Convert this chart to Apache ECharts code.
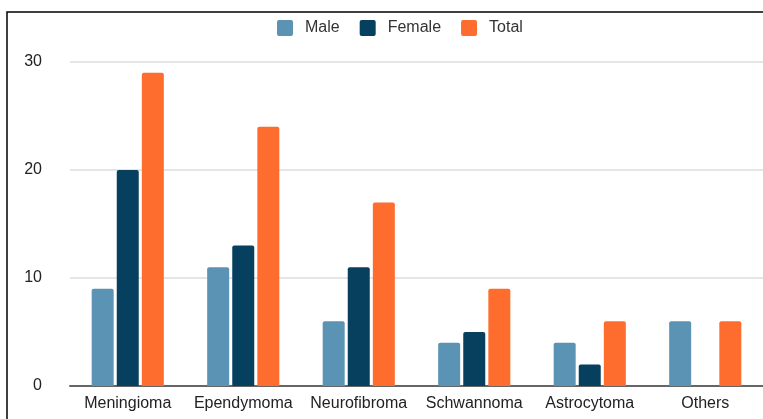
<!DOCTYPE html>
<html><head><meta charset="utf-8">
<script src="https://cdn.jsdelivr.net/npm/echarts@6/dist/echarts.min.js"></script>
<style>html,body{margin:0;padding:0;background:#fff}#c{width:763px;height:419px}</style>
</head><body><div id="c"></div>
<script>
const categories = ['Meningioma','Ependymoma','Neurofibroma','Schwannoma','Astrocytoma','Others'];
const male = [9, 11, 6, 4, 4, 6];
const female = [20, 13, 11, 5, 2, 0];
const total = [29, 24, 17, 9, 6, 6];
const seriesNames = ['Male','Female','Total'];
const yTicks = {min:0, max:30, interval:10};

const chart = echarts.init(document.getElementById('c'));
const font = 'Liberation Sans, Arial, sans-serif';
const colors = ['#5a93b3','#073f5e','#ff6d2e'];
const mk = (name, data, color) => ({
  name, type:'bar', data: data.map(v => v === 0 ? null : v), barWidth:22, barGap:'14%',
  itemStyle:{color, borderRadius:[2,2,0,0]}
});
chart.setOption({
  animation:false,
  color: colors,
  graphic:[{type:'rect', shape:{x:7,y:12,width:900,height:600}, style:{fill:'none', stroke:'#000', lineWidth:1.5}, z:100}],
  legend:{top:15, left:272, itemWidth:16, itemHeight:16, itemGap:20,
    icon:'path://M2,0 L14,0 Q16,0 16,2 L16,14 Q16,16 14,16 L2,16 Q0,16 0,14 L0,2 Q0,0 2,0 Z',
    textStyle:{fontFamily:font, fontSize:16, color:'#333', padding:[0,0,0,7]},
    data: seriesNames},
  grid:{left:70, right:-2, top:62, bottom:33},
  xAxis:{type:'category', data:categories,
    axisLine:{lineStyle:{color:'#666', width:2}}, axisTick:{show:false},
    axisLabel:{fontFamily:font, fontSize:16, color:'#222', margin:10, interval:0}},
  yAxis:{type:'value', min:yTicks.min, max:yTicks.max, interval:yTicks.interval,
    axisLine:{show:false}, axisTick:{show:false},
    splitLine:{lineStyle:{color:'#dcdcdc', width:1.5}},
    axisLabel:{fontFamily:font, fontSize:16, color:'#222', margin:28}},
  series:[mk(seriesNames[0], male, colors[0]), mk(seriesNames[1], female, colors[1]), mk(seriesNames[2], total, colors[2])]
});
</script></body></html>
